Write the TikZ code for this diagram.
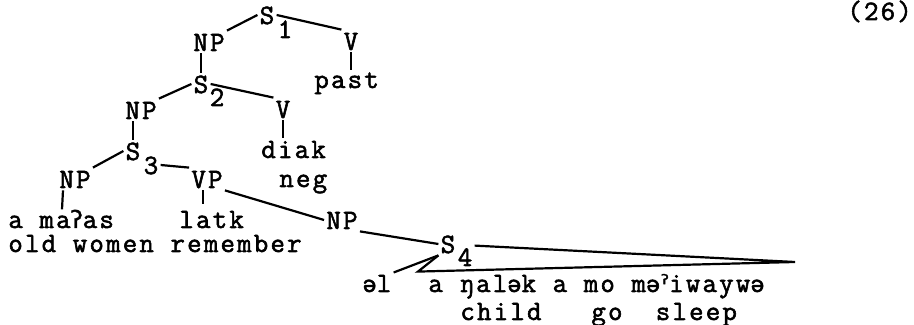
\documentclass[tikz,border=0pt]{standalone}
\usepackage{fontspec}
\usepackage{graphicx}
\newfontfamily\tw[FakeBold=2,LetterSpace=8]{Latin Modern Mono}
\newfontfamily\ipafont[FakeBold=1.5]{DejaVu Sans}
\newcommand{\shwa}{\rotatebox[origin=c]{180}{e}}
\usetikzlibrary{calc}
\tikzset{
  lab/.style={font=\tw\fontsize{14}{16}\selectfont, inner sep=1pt, text height=9pt, text depth=0pt},
  txt/.style={font=\tw\fontsize{14}{16}\selectfont, inner sep=1pt, anchor=base west},
  edge/.style={line width=1.1pt}
}
\begin{document}
\begin{tikzpicture}[x=0.5pt,y=-0.5pt]
\useasboundingbox (0,0) rectangle (914,325);
% labels
\node[txt] (num) at (845,20) {(26)};
\node[lab] (S1) at (267,15) {S};
\node[lab] (s1) at (285,29) {1};
\node[lab] (NP1) at (209,42) {NP};
\node[lab] (V1) at (351,41) {V};
\node[txt] (past) at (312,88) {past};
\node[lab] (S2) at (201,84) {S};
\node[lab] (s2) at (217,97) {2};
\node[lab] (NP2) at (141,110) {NP};
\node[lab] (V2) at (283,109) {V};
\node[txt] (diak) at (259,158) {diak};
\node[lab] (S3) at (133,151) {S};
\node[lab] (s3) at (151,165) {3};
\node[lab] (NP3) at (75,179) {NP};
\node[lab] (VP) at (207,179) {VP};
\node[txt] (neg) at (277,187) {neg};
\node[txt] (amaas) at (6,228) {a ma{\ipafont\fontsize{12}{14}\selectfont ʔ}as};
\node[txt] (latk) at (177,228) {latk};
\node[txt] (gloss1) at (6,252) {old~women~remember};
\node[lab] (NP4) at (342,220) {NP};
\node[lab] (S4) at (448,244) {S};
\node[lab] (s4) at (465,257) {4};
\node[txt] (el) at (360,292) {\shwa l};
\node[txt] (main) at (426,292) {a~ŋal\shwa k~a~mo~m\shwa{\ipafont\fontsize{12}{14}\selectfont ˀ}iwayw\shwa};
\node[txt] (gloss2) at (458,320) {child~~~go~~sleep};
\coordinate (tri) at (795,262);
% edges
\draw[edge] (S1.west) -- (NP1.north east);
\draw[edge] (S1.east) -- (V1.north west);
\draw[edge] (V1.south) -- (V1.south |- past.north);
\draw[edge] (S2.north |- NP1.south) -- (S2.north);
\draw[edge] (S2.west) -- (NP2.north east);
\draw[edge] (S2.east) -- (V2.north west);
\draw[edge] (V2.south) -- (V2.south |- diak.north);
\draw[edge] (S3.north |- NP2.south) -- (S3.north);
\draw[edge] (S3.west) -- (NP3.north east);
\draw[edge] (s3.east) -- (VP.north west);
\draw[edge] ($(NP3.south)+(-12,0)$) -- ($(NP3.south)+(-13,19)$);
\draw[edge] ($(VP.south)+(-4,0)$) -- ($(VP.south)+(-4,14)$);
\draw[edge] (VP.south east) -- (NP4.west);
\draw[edge] (NP4.south east) -- (S4.west);
\draw[edge] (S4.south west) -- (el.north east);
\draw[edge] (S4.south west) -- ($(main.north west)+(-8,0)$) -- (tri) -- (s4.north east);
\end{tikzpicture}
\end{document}
